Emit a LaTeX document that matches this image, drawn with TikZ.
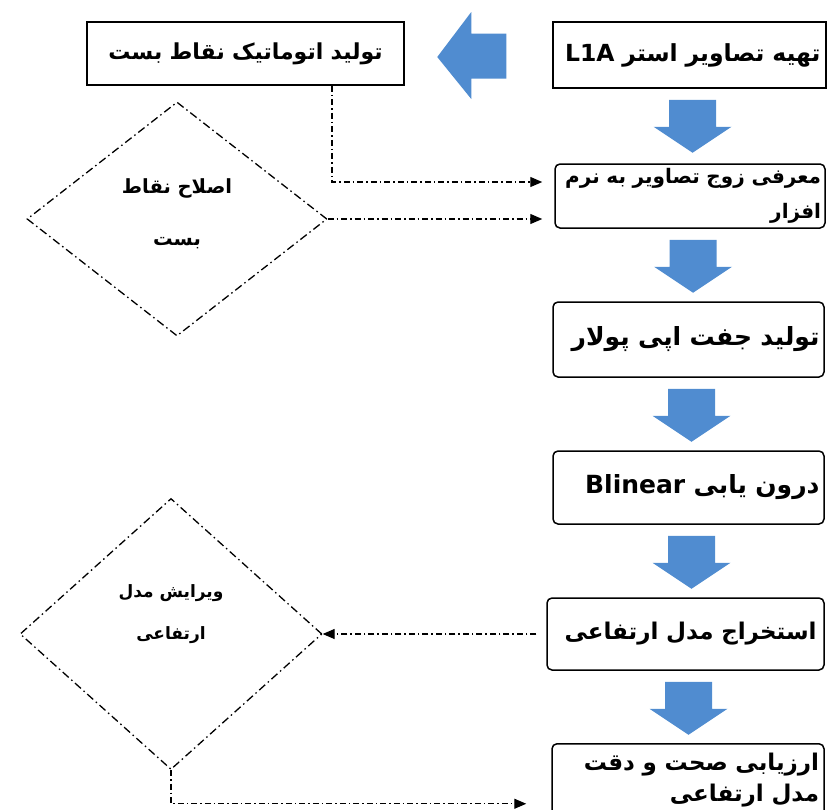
\documentclass[tikz,border=0pt]{standalone}
\usepackage{fontspec}
\newfontfamily\farsi[Script=Arabic]{DejaVu Sans}
\TeXXeTstate=1
\usetikzlibrary{shapes.geometric, arrows.meta}

\definecolor{arrowblue}{RGB}{80,140,208}

\tikzset{
    stage/.style = {draw, line width = 1.5pt, rounded corners = 5pt, minimum width = 270pt,
        text width = 262pt, inner xsep = 4pt, inner ysep = 0pt, align = right,
        font = \farsi\bfseries\fontsize{#1}{35}\selectfont},
    stage/.default = 20,
    squarestage/.style = {stage = #1, rounded corners = 0pt},
    check/.style = {diamond, draw, line width = 1.3pt, dash pattern = on 8pt off 3.5pt on 1.5pt off 3.5pt},
    link/.style = {line width = 1.2pt, dash pattern = on 6pt off 3pt on 1.5pt off 3pt,
        -{Triangle[length = 12pt, width = 10pt]}},
    blockdown/.pic = {\fill[arrowblue] (-23.5, 0) -- (23.5, 0) -- (23.5, 27) -- (39, 27) -- (0, 53)
        -- (-39, 27) -- (-23.5, 27) -- cycle;},
    blockleft/.pic = {\fill[arrowblue] (0, -22.5) -- (-35, -22.5) -- (-35, -44) -- (-69, 1)
        -- (-35, 43) -- (-35, 22.5) -- (0, 22.5) -- cycle;}
}

\begin{document}
\begin{tikzpicture}[x = 1pt, y = -1pt]
    \useasboundingbox (0, 0) rectangle (829, 809); % size of the page
    \clip (0, 0) rectangle (829, 809);

    % chain of steps on the right
    \node[squarestage = 23.5, minimum width = 273pt, minimum height = 66pt] (src) at (689.5, 55) {\beginR تهیه تصاویر استر \beginL L1A\endL\endR};
    \node[stage = 20, minimum width = 268pt, minimum height = 64pt] (intro) at (690, 196) {\beginR معرفی زوج تصاویر به نرم\endR\\\beginR افزار\endR};
    \node[stage = 25, minimum width = 271pt, minimum height = 75pt] (epi) at (688.5, 339.5) {\beginR تولید جفت اپی پولار\endR};
    \node[stage = 25, minimum width = 271pt, minimum height = 73pt] (interp) at (688.5, 487.5) {\beginR درون یابی \beginL Blinear\endL\endR};
    \node[stage = 23, minimum width = 277pt, minimum height = 72pt] (dem) at (685.5, 634) {\beginR استخراج مدل ارتفاعی\endR};
    \node[stage = 23, minimum width = 272pt, minimum height = 72pt, anchor = north,
        font = \farsi\bfseries\fontsize{23}{31}\selectfont] (assess) at (688, 743) {\beginR ارزیابی صحت و دقت\endR\\\beginR مدل ارتفاعی\endR};

    % box on the left
    \node[squarestage = 22, minimum width = 317pt, minimum height = 63pt, text width = 305pt, align = center] (gen) at (245.5, 53.5) {\beginR تولید اتوماتیک نقاط بست\endR};

    % blue arrows
    \path (src.west) ++(-46, 1) pic {blockleft};
    \foreach \a in {src, intro, epi, interp, dem}
        \path (\a.south) ++(3, 11) pic {blockdown};

    % diamonds
    \node[check, minimum width = 300pt, minimum height = 234pt] (fix) at (177, 219) {};
    \node[font = \farsi\bfseries\fontsize{19.5}{52}\selectfont, align = center] (fixtext) at ([yshift = 5pt]fix.center) {\beginR اصلاح نقاط\endR\\\beginR بست\endR};
    \node[check, minimum width = 302pt, minimum height = 271pt] (edit) at (171, 634) {};
    \node[font = \farsi\bfseries\fontsize{17}{42}\selectfont, align = center] (edittext) at ([yshift = 20pt]edit.center) {\beginR ویرایش مدل\endR\\\beginR ارتفاعی\endR};

    % dash-dot links
    \draw[link, shorten > = 12pt] ([xshift = 86.5pt]gen.south) |- ([yshift = 14pt]intro.west);
    \draw[link, shorten > = 12pt] (fix.east) -- (fix.east -| intro.west);
    \draw[link, shorten < = 10pt] (dem.west) -- (dem.west -| edit.east);
    \draw[link, shorten > = 25pt] (edit.south) |- ([yshift = -24pt]assess.west);
\end{tikzpicture}
\end{document}
